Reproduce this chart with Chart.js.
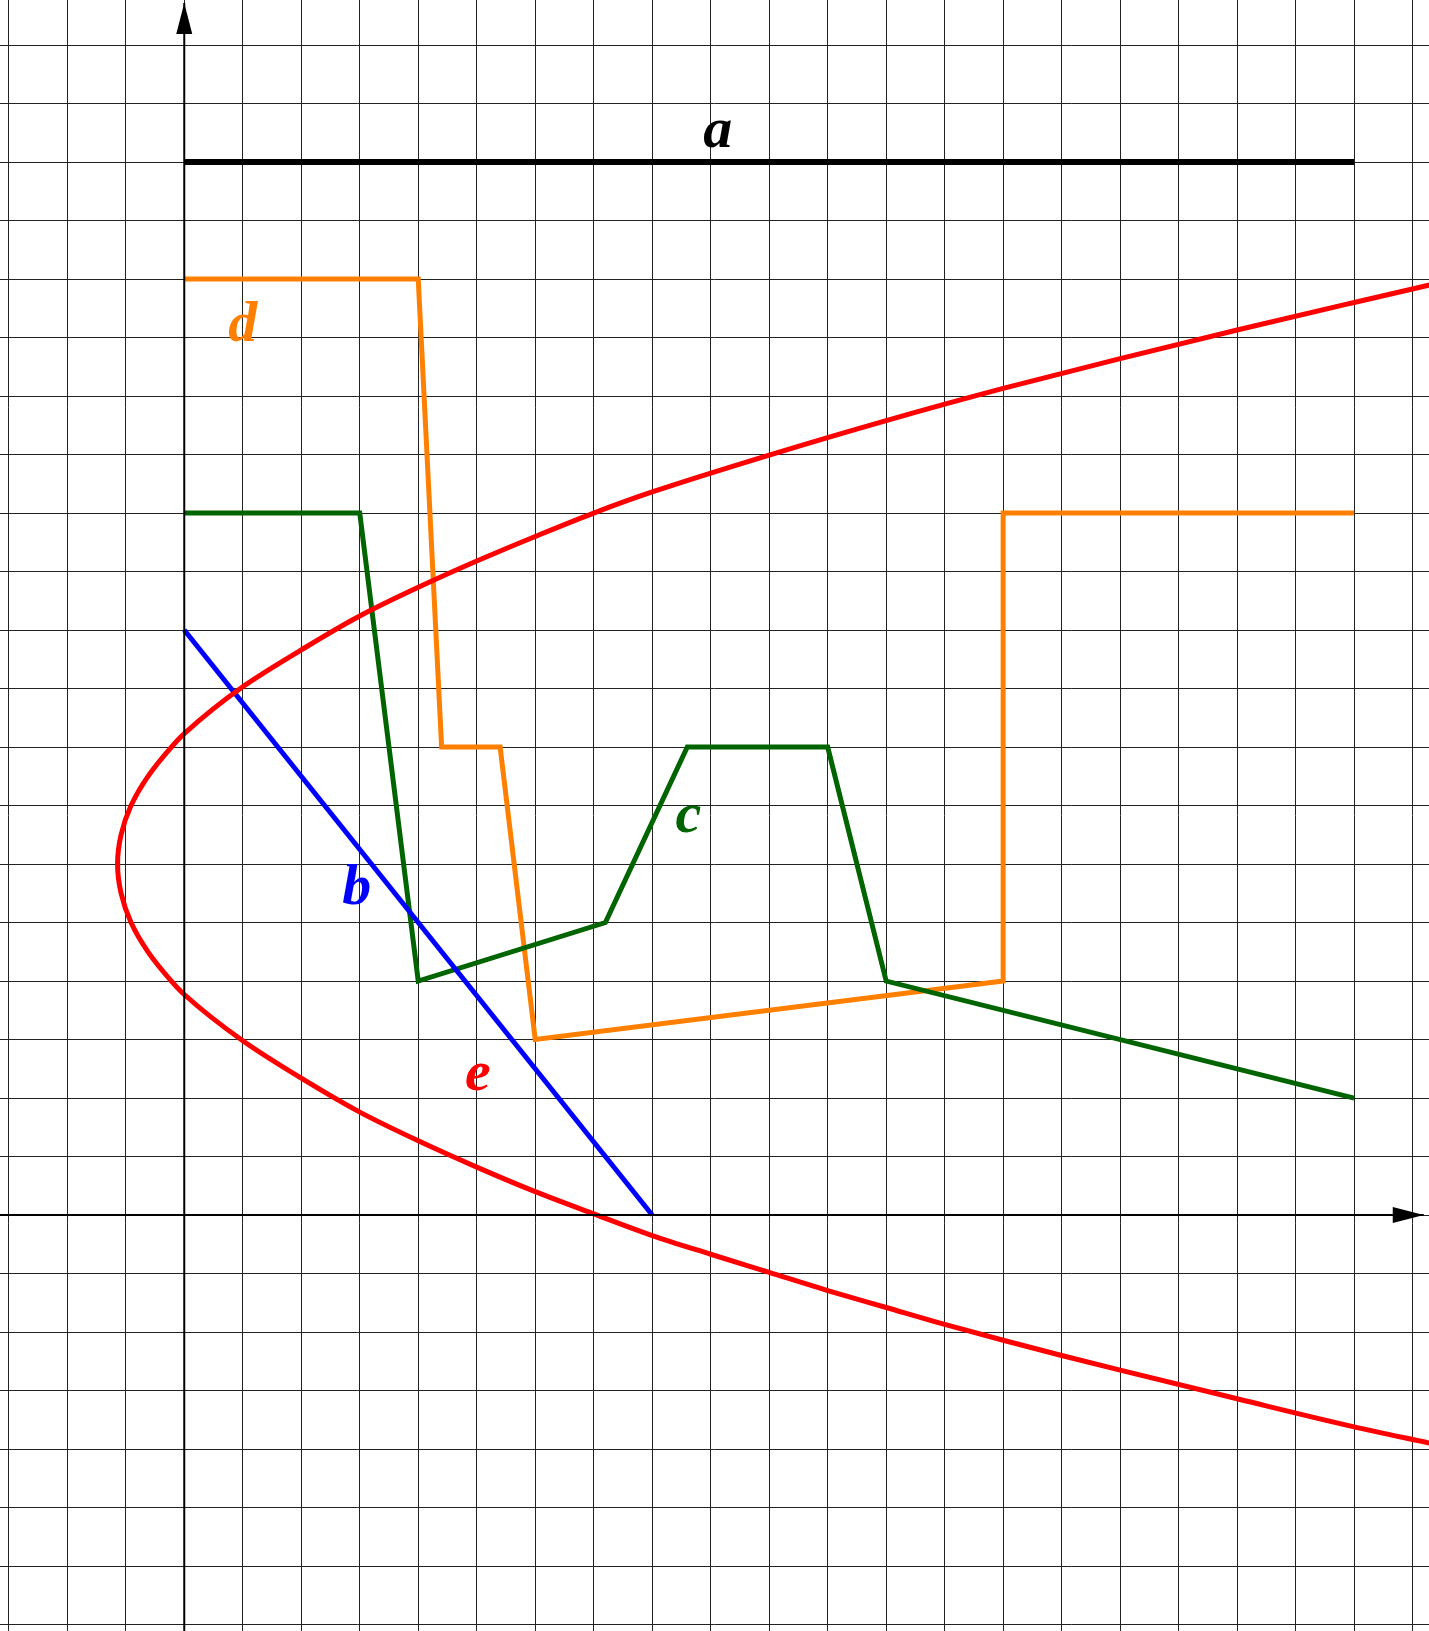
<!DOCTYPE html>
<html>
<head>
<meta charset="utf-8">
<title>Graphs a–e</title>
<script src="https://cdn.jsdelivr.net/npm/chart.js@4.4.1/dist/chart.umd.min.js"></script>
<style>
    html, body { margin: 0; padding: 0; background: #fff; }
    #wrap { width: 1429px; height: 1631px; }
</style>
</head>
<body>
<div id="wrap"><canvas id="chart" width="1429" height="1631"></canvas></div>
<script>
// ===============================
// DATA
// ===============================
const xRange = [-3.15, 21.28];
const yRange = [-7.11, 20.77];

// axes (last point = arrow tip)
const xAxisX = [-3.15, 21.19];
const xAxisY = [0, 0];
const yAxisX = [0, 0];
const yAxisY = [-7.11, 20.72];

// a
const aX = [0, 20];
const aY = [18, 18];

// b
const bX = [0, 8];
const bY = [10, 0];

// c
const cX = [0, 3, 4, 7.2, 8.6, 11, 12, 20];
const cY = [12, 12, 4, 5, 8, 8, 4, 2];

// d
const dX = [0, 4, 4.4, 5.4, 6, 14, 14, 20];
const dY = [16, 16, 8, 8, 3, 4, 12, 12];

// e (curve, top right -> vertex -> bottom right, y keeps falling)
const eX = [21.3, 20, 18, 16, 14, 12, 10, 8, 7, 6, 5, 4, 3, 2, 1, 0, -0.22, -0.62, -0.91, -1.08, -1.14,
            -1.08, -0.91, -0.62, -0.22, 0, 1, 2, 3, 4, 5, 6, 7, 8, 9, 10, 11, 12, 13, 14, 15, 16, 18, 20, 21.3];
const eY = [15.90, 15.60, 15.13, 14.64, 14.13, 13.58, 12.99, 12.36, 12.0, 11.6, 11.18, 10.73, 10.24, 9.66, 9.03, 8.23, 8, 7.5, 7, 6.5, 6,
            5.5, 5, 4.5, 4, 3.77, 2.98, 2.34, 1.76, 1.27, 0.82, 0.40, 0.02, -0.35, -0.67, -0.98, -1.29, -1.58, -1.87, -2.14, -2.40, -2.65, -3.14, -3.62, -3.90];

// labels
const labelText = ["a", "b", "c", "d", "e"];
const labelX = [9.12, 2.95, 8.62, 1.0, 5.02];
const labelY = [18.25, 5.32, 6.55, 14.94, 2.14];
const labelColor = ["#000000", "#0000ff", "#006400", "#ff8000", "#ff0000"];


// helper: zip x/y arrays into points
function pts(xs, ys) {
    return xs.map((x, i) => ({ x: x, y: ys[i] }));
}

function lineSet(xs, ys, color, width) {
    return {
        data: pts(xs, ys),
        showLine: true,
        borderColor: color,
        backgroundColor: color,
        borderWidth: width,
        pointRadius: 0,
        tension: 0,
        borderJoinStyle: "miter",
        borderCapStyle: "butt"
    };
}

// the parabola runs along y, so smooth it along the y axis
const eSet = lineSet(eX, eY, "#ff0000", 5);
eSet.indexAxis = "y";
eSet.cubicInterpolationMode = "monotone";


// ===============================
// PLUGIN: arrow heads + letters
// ===============================
const extras = {
    id: "extras",
    afterDatasetsDraw(chart) {
        const c = chart.ctx;
        const sx = chart.scales.x;
        const sy = chart.scales.y;

        // x arrow (points right)
        const xt = sx.getPixelForValue(xAxisX[1]);
        const xy = sy.getPixelForValue(xAxisY[1]);
        c.save();
        c.fillStyle = "#000";
        c.beginPath();
        c.moveTo(xt, xy);
        c.lineTo(xt - 31, xy - 8);
        c.lineTo(xt - 31, xy + 8);
        c.closePath();
        c.fill();

        // y arrow (points up)
        const yx = sx.getPixelForValue(yAxisX[1]);
        const yt = sy.getPixelForValue(yAxisY[1]);
        c.beginPath();
        c.moveTo(yx, yt);
        c.lineTo(yx - 8, yt + 31);
        c.lineTo(yx + 8, yt + 31);
        c.closePath();
        c.fill();

        // letters
        c.font = "italic bold 58px 'Liberation Serif'";
        c.textAlign = "center";
        c.textBaseline = "alphabetic";
        labelText.forEach((t, i) => {
            c.fillStyle = labelColor[i];
            c.fillText(t, sx.getPixelForValue(labelX[i]), sy.getPixelForValue(labelY[i]));
        });
        c.restore();
    }
};


// ===============================
// CHART
// ===============================
const ctx = document.getElementById("chart");

new Chart(ctx, {
    type: "scatter",
    data: {
        datasets: [
            lineSet(xAxisX, xAxisY, "#000000", 2),
            lineSet(yAxisX, yAxisY, "#000000", 2),
            eSet,
            lineSet(bX, bY, "#0000ff", 5),
            lineSet(cX, cY, "#006400", 5),
            lineSet(dX, dY, "#ff8000", 5),
            lineSet(aX, aY, "#000000", 6)
        ]
    },
    options: {
        responsive: false,
        animation: false,
        layout: { padding: 0 },
        plugins: {
            legend: { display: false },
            tooltip: { enabled: false }
        },
        scales: {
            x: {
                type: "linear",
                min: xRange[0],
                max: xRange[1],
                ticks: { display: false, stepSize: 1, includeBounds: false },
                grid: { color: "#222222", lineWidth: 1, drawTicks: false },
                border: { display: false }
            },
            y: {
                type: "linear",
                min: yRange[0],
                max: yRange[1],
                ticks: { display: false, stepSize: 1, includeBounds: false },
                grid: { color: "#222222", lineWidth: 1, drawTicks: false },
                border: { display: false }
            }
        }
    },
    plugins: [extras]
});
</script>
</body>
</html>
